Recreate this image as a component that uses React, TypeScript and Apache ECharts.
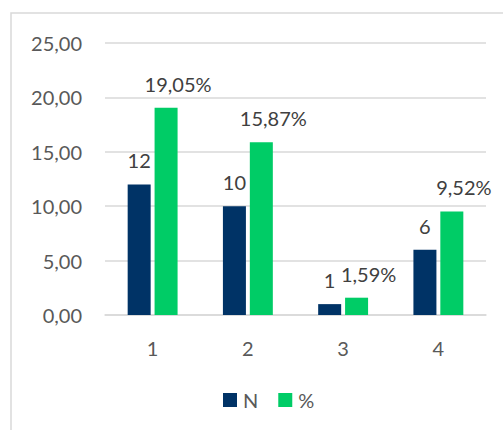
import React, { useEffect, useRef } from "react";
import * as echarts from "echarts";

const categories = ["1", "2", "3", "4"];
const nValues = [12, 10, 1, 6];
const pctValues = [19.05, 15.87, 1.59, 9.52];
const yTicks = [0, 5, 10, 15, 20, 25];

const fmt = (v: number, d: number) => v.toFixed(d).replace(".", ",");

export default function App() {
  const ref = useRef<HTMLDivElement>(null);
  useEffect(() => {
    const chart = echarts.init(ref.current!, null, { renderer: "svg" });
    const font = "Lato, 'Open Sans', sans-serif";
    const fs = 20;
    chart.setOption({
      animation: false,
      textStyle: { fontFamily: font },
      graphic: [
        {
          type: "rect",
          shape: { x: 11, y: 13, width: 600, height: 600 },
          style: { fill: "none", stroke: "#d9d9d9", lineWidth: 1.5 },
          silent: true,
        },
      ],
      grid: { left: 105, right: 17, top: 43, bottom: 115, containLabel: false },
      legend: {
        top: 385,
        left: 218,
        itemWidth: 14,
        itemHeight: 14,
        itemGap: 20,
        icon: "rect",
        textStyle: { fontSize: fs, color: "#595959", fontFamily: font, padding: [0, 0, 0, 1] },
        data: ["N", "%"],
      },
      xAxis: {
        type: "category",
        data: categories,
        axisLine: { lineStyle: { color: "#d9d9d9", width: 1.5 } },
        axisTick: { show: false },
        axisLabel: { fontSize: fs, color: "#595959", margin: 23, fontFamily: font },
      },
      yAxis: {
        type: "value",
        min: 0,
        max: yTicks[yTicks.length - 1],
        interval: 5,
        axisLine: { show: false },
        axisTick: { show: false },
        splitLine: { lineStyle: { color: "#d9d9d9", width: 1.5 } },
        axisLabel: {
          fontSize: fs,
          color: "#595959",
          margin: 23,
          fontFamily: font,
          formatter: (v: number) => fmt(v, 2),
        },
      },
      series: [
        {
          name: "N",
          type: "bar",
          data: nValues,
          barWidth: 23,
          barGap: "17%",
          itemStyle: { color: "#003366" },
          label: {
            show: true,
            position: "top",
            distance: 14,
            fontSize: fs,
            color: "#404040",
            fontFamily: font,
            formatter: (p: any) => String(p.value),
          },
        },
        {
          name: "%",
          type: "bar",
          data: pctValues,
          barWidth: 23,
          itemStyle: { color: "#00CC66" },
          label: {
            show: true,
            position: "top",
            distance: 14,
            offset: [12, 0],
            fontSize: fs,
            color: "#404040",
            fontFamily: font,
            formatter: (p: any) => fmt(p.value, 2) + "%",
          },
        },
      ],
    });
    return () => chart.dispose();
  }, []);
  return (
    <div
      ref={ref}
      style={{ position: "fixed", left: 0, top: 0, width: 503, height: 430, background: "#fff" }}
    />
  );
}
